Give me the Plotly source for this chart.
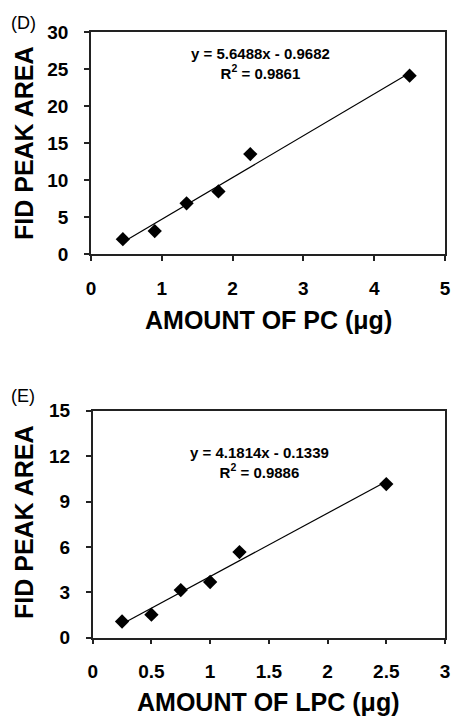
import plotly.graph_objects as go

# Panel D: PC
pc_amount = [0.45, 0.9, 1.35, 1.8, 2.25, 4.5]
pc_area = [2.0, 3.1, 6.85, 8.45, 13.5, 24.1]
pc_slope, pc_intercept = 5.6488, -0.9682
pc_eq = "y = 5.6488x - 0.9682<br>R<sup>2</sup> = 0.9861"
pc_xticks = [0, 1, 2, 3, 4, 5]
pc_yticks = [0, 5, 10, 15, 20, 25, 30]

# Panel E: LPC
lpc_amount = [0.25, 0.5, 0.75, 1.0, 1.25, 2.5]
lpc_area = [1.07, 1.52, 3.15, 3.68, 5.66, 10.15]
lpc_slope, lpc_intercept = 4.1814, -0.1339
lpc_eq = "y = 4.1814x - 0.1339<br>R<sup>2</sup> = 0.9886"
lpc_xticks = [0, 0.5, 1, 1.5, 2, 2.5, 3]
lpc_yticks = [0, 3, 6, 9, 12, 15]

FONT = "Liberation Sans, Arial, sans-serif"

fig = go.Figure()

def add_panel(xs, ys, slope, intercept, xa, ya):
    xl = [min(xs), max(xs)]
    yl = [slope * v + intercept for v in xl]
    fig.add_trace(go.Scatter(x=xl, y=yl, mode="lines", line=dict(color="black", width=1.2),
                             xaxis=xa, yaxis=ya, showlegend=False, hoverinfo="skip"))
    fig.add_trace(go.Scatter(x=xs, y=ys, mode="markers",
                             marker=dict(symbol="diamond", size=11, color="black"),
                             xaxis=xa, yaxis=ya, showlegend=False))

add_panel(pc_amount, pc_area, pc_slope, pc_intercept, "x", "y")
add_panel(lpc_amount, lpc_area, lpc_slope, lpc_intercept, "x2", "y2")

W, H = 454, 717
def px(v):
    return v / W
def py(v):
    return 1 - v / H

tickfont = dict(family=FONT, size=19, color="black", weight="bold")
axis_common = dict(showline=True, linecolor="#222", linewidth=1.5, mirror=True,
                   ticks="outside", ticklen=5, tickcolor="#222", tickwidth=1.5,
                   showgrid=False, zeroline=False, tickfont=tickfont, fixedrange=True,
                   automargin=False)

fig.update_layout(
    width=W, height=H,
    margin=dict(l=0, r=0, t=0, b=0, autoexpand=False),
    paper_bgcolor="white", plot_bgcolor="white",
    xaxis=dict(domain=[px(91), px(445)], range=[0, 5], tickvals=pc_xticks,
               anchor="y", ticklabelstandoff=11, **axis_common),
    yaxis=dict(domain=[py(254), py(32)], range=[0, 30], tickvals=pc_yticks,
               anchor="x", ticklabelstandoff=12, **axis_common),
    xaxis2=dict(domain=[px(92.7), px(445)], range=[0, 3], tickvals=lpc_xticks,
                anchor="y2", ticklabelstandoff=11, **axis_common),
    yaxis2=dict(domain=[py(637.7), py(410.7)], range=[0, 15], tickvals=lpc_yticks,
                anchor="x2", ticklabelstandoff=12, **axis_common),
)

titlefont = dict(family=FONT, size=25, color="black", weight="bold")
eqfont = dict(family=FONT, size=15, color="black", weight="bold")
ann = [
    dict(text="(D)", x=px(9), y=py(23), xref="paper", yref="paper", xanchor="left",
         yanchor="middle", showarrow=False, font=dict(family=FONT, size=18, color="black")),
    dict(text="(E)", x=px(9), y=py(396), xref="paper", yref="paper", xanchor="left",
         yanchor="middle", showarrow=False, font=dict(family=FONT, size=18, color="black")),
    dict(text="FID PEAK AREA", x=px(24), y=py(143), xref="paper", yref="paper",
         textangle=-90, showarrow=False, font=titlefont, xanchor="center", yanchor="middle"),
    dict(text="FID PEAK AREA", x=px(24), y=py(522), xref="paper", yref="paper",
         textangle=-90, showarrow=False, font=titlefont, xanchor="center", yanchor="middle"),
    dict(text="AMOUNT OF PC (μg)", x=px(268), y=py(320), xref="paper", yref="paper",
         showarrow=False, font=titlefont, xanchor="center", yanchor="middle"),
    dict(text="AMOUNT OF LPC (μg)", x=px(268), y=py(702), xref="paper", yref="paper",
         showarrow=False, font=titlefont, xanchor="center", yanchor="middle"),
    dict(text=pc_eq, x=2.39, y=25.8, xref="x", yref="y", showarrow=False, font=eqfont),
    dict(text=lpc_eq, x=1.42, y=11.55, xref="x2", yref="y2", showarrow=False, font=eqfont),
]
fig.update_layout(annotations=ann)

fig.write_html("out.html", config={"displayModeBar": False},
               post_script="document.body.style.margin='0';document.body.style.overflow='hidden';")
